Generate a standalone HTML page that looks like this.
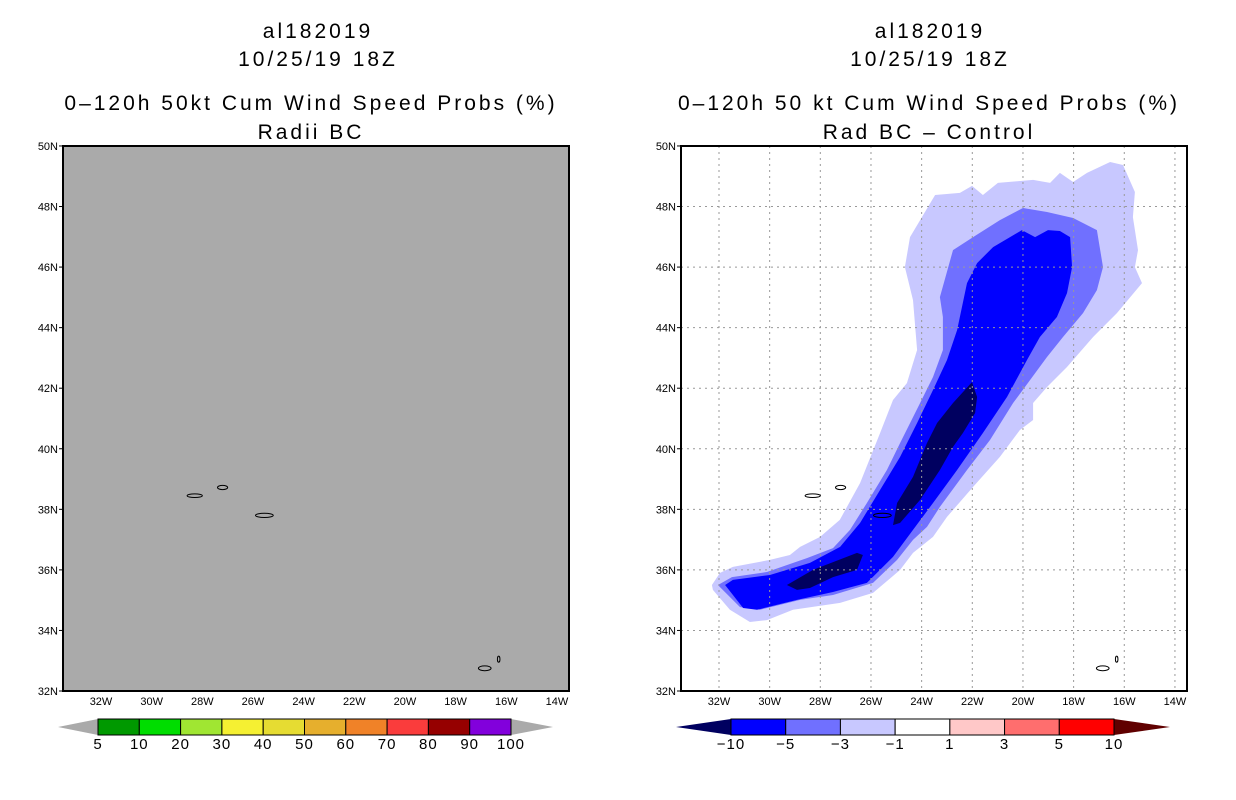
<!DOCTYPE html>
<html><head><meta charset="utf-8">
<style>
body{margin:0;background:#fff;}
svg{display:block;font-family:"Liberation Sans",sans-serif;}
</style></head>
<body>
<svg id="chart" width="1236" height="800" viewBox="0 0 1236 800">
<g font-size="21" text-anchor="middle" fill="#000" letter-spacing="3">
<text x="318" y="38">al182019</text>
<text x="318" y="66">10/25/19 18Z</text>
<text x="311" y="110">0–120h 50kt Cum Wind Speed Probs (%)</text>
<text x="311" y="139">Radii BC</text>
<text x="930" y="38">al182019</text>
<text x="930" y="66">10/25/19 18Z</text>
<text x="929" y="110">0–120h 50 kt Cum Wind Speed Probs (%)</text>
<text x="929" y="139">Rad BC – Control</text>
</g>
<g id="left"></g>
<g id="right"></g>
<g id="cbars"></g>
</svg>
<script>
const lonTicks=[-32,-30,-28,-26,-24,-22,-20,-18,-16,-14];
const latTicks=[32,34,36,38,40,42,44,46,48,50];
const leftLevels=["5","10","20","30","40","50","60","70","80","90","100"];
const leftColors=["#009900","#00dd00","#a0e632","#f5f032","#e6dc32","#e6af2d","#f08228","#fa3c3c","#960000","#8200dc"];
const rightLevels=["−10","−5","−3","−1","1","3","5","10"];
const rightColors=["#0000ff","#7070ff","#c8c8ff","#ffffff","#ffc8c8","#ff6e6e","#ff0000"];
const islands=[[-28.3,38.45,0.3,0.06],[-27.2,38.72,0.2,0.07],[-25.55,37.8,0.35,0.07],[-16.85,32.75,0.25,0.08],[-16.3,33.05,0.05,0.1]];
const cLight=[[-32.28,35.5],[-31.96,35.9],[-31.45,36.1],[-29.99,36.33],[-29.2,36.49],[-28.8,36.76],[-28.01,37.09],[-27.23,37.65],[-26.43,38.87],[-25.64,40.52],[-25.13,41.61],[-24.58,42.17],[-24.18,43.26],[-24.34,44.91],[-24.66,46.0],[-24.46,46.99],[-23.47,48.38],[-22.49,48.45],[-22.01,48.68],[-21.58,48.38],[-20.99,48.78],[-19.6,48.88],[-18.93,48.78],[-18.54,49.11],[-18.02,48.81],[-17.47,49.11],[-16.56,49.47],[-16.05,49.37],[-15.58,48.48],[-15.66,47.65],[-15.46,46.56],[-15.58,46.0],[-15.3,45.47],[-16.29,44.48],[-17.23,43.69],[-18.26,42.7],[-19.05,42.04],[-19.6,41.51],[-19.6,40.95],[-20.12,40.62],[-20.91,39.73],[-21.97,38.74],[-23.0,37.75],[-23.55,37.09],[-24.34,36.56],[-24.85,36.0],[-25.92,35.24],[-27.22,34.91],[-29.08,34.68],[-30.11,34.34],[-30.78,34.28],[-31.57,34.68],[-32.24,35.34]];
const cMed=[[-32.04,35.5],[-31.49,35.76],[-30.11,35.93],[-28.53,36.39],[-27.5,36.72],[-26.83,37.32],[-26.16,38.21],[-25.37,39.3],[-24.85,40.19],[-24.06,41.51],[-23.55,42.37],[-23.16,43.26],[-23.16,44.35],[-23.28,45.01],[-22.76,46.56],[-21.97,46.99],[-20.91,47.55],[-20.0,47.95],[-19.05,47.82],[-18.02,47.62],[-17.08,47.22],[-16.84,46.0],[-17.08,45.24],[-17.63,44.48],[-18.42,43.69],[-19.05,43.03],[-19.72,42.27],[-20.39,41.51],[-21.3,40.29],[-22.21,39.3],[-23.28,38.08],[-23.79,37.42],[-24.34,36.99],[-24.97,36.33],[-25.92,35.57],[-27.5,35.17],[-28.8,35.01],[-30.38,34.68],[-31.17,34.77],[-31.96,35.43]];
const cBlue=[[-31.76,35.5],[-31.45,35.67],[-29.99,35.83],[-28.41,36.23],[-27.22,36.76],[-26.43,37.55],[-25.64,38.64],[-24.85,39.73],[-24.18,40.85],[-23.55,41.94],[-23.0,42.93],[-22.6,43.92],[-22.21,45.47],[-21.81,46.13],[-21.18,46.66],[-20.04,47.22],[-19.52,46.99],[-19.01,47.22],[-18.54,47.19],[-18.14,46.99],[-18.06,46.0],[-18.26,45.14],[-18.66,44.35],[-19.33,43.69],[-19.84,42.93],[-20.63,41.71],[-21.58,40.52],[-22.6,39.3],[-23.55,38.21],[-24.34,37.32],[-25.13,36.43],[-26.16,35.57],[-27.5,35.27],[-28.92,35.01],[-30.5,34.68],[-31.05,34.74]];
const cDark1=[[-25.13,37.48],[-24.97,38.21],[-24.34,39.07],[-23.79,40.19],[-23.39,40.85],[-22.76,41.51],[-22.01,42.2],[-21.81,41.71],[-21.89,41.18],[-22.37,40.52],[-22.76,40.06],[-23.28,39.3],[-24.06,38.31],[-24.85,37.55]];
const cDark2=[[-29.32,35.5],[-28.29,36.0],[-26.55,36.56],[-26.32,36.49],[-26.55,36.0],[-27.5,35.76],[-28.41,35.4],[-28.92,35.34]];

const NS='http://www.w3.org/2000/svg';
function mk(p,t,a){const e=document.createElementNS(NS,t);for(const k in a)e.setAttribute(k,a[k]);p.appendChild(e);return e;}
const Y0=146,Y1=691,W=506;
function panel(g,x0,isLeft){
  const xs=lon=>x0+38+(lon+32)*25.33;
  const ys=lat=>Y1-(lat-32)*30.28;
  const r=mk(g,'rect',{x:x0,y:Y0,width:W,height:Y1-Y0,fill:isLeft?'#aaaaaa':'#ffffff'});
  
  
  if(!isLeft){
    const layers=[[cLight,'#c8c8ff','contour-minus1'],[cMed,'#7070ff','contour-minus3'],[cBlue,'#0000ff','contour-minus5'],[cDark1,'#000060','contour-minus10-a'],[cDark2,'#000060','contour-minus10-b']];
    layers.forEach(([pts,c,n])=>{
      const p=mk(g,'polygon',{points:pts.map(q=>xs(q[0]).toFixed(1)+','+ys(q[1]).toFixed(1)).join(' '),fill:c});
      
      
    });
    lonTicks.forEach(l=>{const e=mk(g,'line',{x1:xs(l),x2:xs(l),y1:Y0,y2:Y1,stroke:'#999',"stroke-width":1,"stroke-dasharray":"2,4"});
      });
    latTicks.forEach(l=>{const e=mk(g,'line',{x1:x0,x2:x0+W,y1:ys(l),y2:ys(l),stroke:'#999',"stroke-width":1,"stroke-dasharray":"2,4"});
      });
  }
  islands.forEach(i=>{const e=mk(g,'ellipse',{cx:xs(i[0]),cy:ys(i[1]),rx:i[2]*25.33,ry:i[3]*30.28,fill:'none',stroke:'#000',"stroke-width":1});
    });
  const b=mk(g,'rect',{x:x0,y:Y0,width:W,height:Y1-Y0,fill:'none',stroke:'#000',"stroke-width":2});
  
  lonTicks.forEach(l=>{const t=mk(g,'text',{x:xs(l),y:Y1+14,"font-size":11,"text-anchor":"middle"});t.textContent=(-l)+'W';
    });
  latTicks.forEach(l=>{const t=mk(g,'text',{x:x0-5,y:ys(l)+4,"font-size":11,"text-anchor":"end"});t.textContent=l+'N';
    
    mk(g,'line',{x1:x0-4,x2:x0,y1:ys(l),y2:ys(l),stroke:'#000'});});
}
panel(document.getElementById('left'),63,true);
panel(document.getElementById('right'),681,false);

const cb=document.getElementById('cbars');
function cbar(x0,x1,ax0,ax1,cols,labs,lc,rc){
  const yT=719,yB=735,ym=727,w=(x1-x0)/cols.length;
  const a=mk(cb,'polygon',{points:`${ax0},${ym} ${x0},${yT} ${x0},${yB}`,fill:lc});
  
  const a2=mk(cb,'polygon',{points:`${ax1},${ym} ${x1},${yT} ${x1},${yB}`,fill:rc});
  
  cols.forEach((c,i)=>{const r=mk(cb,'rect',{x:x0+i*w,y:yT,width:w,height:yB-yT,fill:c,stroke:'#000',"stroke-width":1});
    });
  labs.forEach((s,i)=>{const t=mk(cb,'text',{x:x0+i*w,y:yB+14,"font-size":15,"text-anchor":"middle","letter-spacing":1});t.textContent=s;
    });
}
cbar(98,511,58,553,leftColors,leftLevels,'#aaaaaa','#aaaaaa');
cbar(731,1114,676,1170,rightColors,rightLevels,'#000060','#600000');
</script>
</body></html>
